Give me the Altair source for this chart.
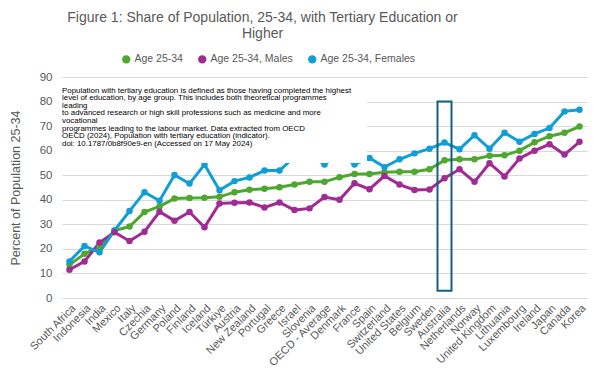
import altair as alt
import pandas as pd

countries = ["South Africa", "Indonesia", "India", "Mexico", "Italy", "Czechia", "Germany",
             "Poland", "Finland", "Iceland", "Türkiye", "Austria", "New Zealand", "Portugal",
             "Greece", "Israel", "Slovenia", "OECD - Average", "Denmark", "France", "Spain",
             "Switzerland", "United States", "Belgium", "Sweden", "Australia", "Netherlands",
             "Norway", "United Kingdom", "Lithuania", "Luxembourg", "Ireland", "Japan",
             "Canada", "Korea"]

age_total = [13.5, 18.0, 20.8, 27.5, 29.1, 35.0, 37.3, 40.5, 40.7, 40.8, 41.2, 43.1, 44.1,
             44.5, 45.1, 46.2, 47.3, 47.3, 49.2, 50.5, 50.5, 51.2, 51.4, 51.4, 52.4, 56.1,
             56.5, 56.5, 57.9, 58.1, 60.0, 63.4, 65.9, 67.3, 69.8]
age_males = [11.5, 14.9, 22.6, 26.8, 23.2, 27.0, 35.1, 31.5, 35.0, 28.8, 38.5, 38.8, 38.9,
             36.9, 38.9, 35.8, 36.5, 41.1, 40.0, 46.7, 44.3, 49.7, 46.2, 44.0, 44.2, 48.8,
             52.4, 47.3, 54.9, 49.5, 56.8, 60.0, 62.6, 58.4, 63.6]
age_females = [14.9, 21.2, 18.6, 27.5, 35.4, 43.1, 39.6, 50.1, 46.6, 54.3, 43.9, 47.6, 49.1,
               51.9, 51.9, 57.5, 58.5, 54.4, 58.5, 54.4, 57.0, 53.3, 56.5, 58.9, 60.8, 63.3,
               60.6, 66.3, 60.8, 67.3, 63.6, 66.8, 69.2, 76.0, 76.7]

series_names = ["Age 25-34", "Age 25-34, Males", "Age 25-34, Females"]
series_colors = ["#4EA72E", "#A02B93", "#0F9ED5"]

highlight_country = ["Australia"]
highlight_low = [3]
highlight_high = [80]

note_lines = [
    "Population with tertiary education is defined as those having completed the highest",
    "level of education, by age group. This includes both theoretical programmes",
    "leading",
    "to advanced research or high skill professions such as medicine and more",
    "vocational",
    "programmes leading to the labour market.  Data extracted from OECD",
    "OECD (2024), Population with tertiary education (indicator).",
    "doi: 10.1787/0b8f90e9-en (Accessed on 17 May 2024)",
]

title_lines = ["Figure 1: Share of Population, 25-34, with Tertiary Education or", "Higher"]

rows = []
for name, vals in zip(series_names, [age_total, age_males, age_females]):
    for c, v in zip(countries, vals):
        rows.append({"country": c, "series": name, "value": v})
df = pd.DataFrame(rows)

FONT = "Liberation Sans"
GRAY = "#595959"

x_scale = alt.Scale(type="point", domain=countries, padding=0.5)
y_scale = alt.Scale(domain=[0, 90], nice=False)

x_axis = alt.Axis(labelAngle=-45, labelFontSize=11, labelColor=GRAY, labelFont=FONT,
                  ticks=False, domain=False, grid=False, labelPadding=4)
y_axis = alt.Axis(values=list(range(0, 91, 10)), labelFontSize=11.5, labelColor=GRAY,
                  labelFont=FONT, ticks=False, domain=False, grid=True, labelOverlap=False,
                  gridColor="#D9D9D9", gridWidth=1, labelPadding=10,
                  titleFontSize=12.5, titleColor=GRAY, titleFont=FONT,
                  titleFontWeight="normal", titlePadding=17)
y_title = "Percent of Population 25-34"

lines = alt.Chart(df).mark_line(
    strokeWidth=3,
    point=alt.OverlayMarkDef(filled=True, size=42, opacity=1),
).encode(
    x=alt.X("country:N", scale=x_scale, title=None, axis=x_axis),
    y=alt.Y("value:Q", scale=y_scale, title=y_title, axis=y_axis),
    color=alt.Color("series:N", scale=alt.Scale(domain=series_names, range=series_colors),
                    legend=alt.Legend(orient="none", legendX=59, legendY=-23,
                                      direction="horizontal", title=None,
                                      labelFontSize=10.5, labelColor=GRAY, labelFont=FONT,
                                      symbolType="circle", symbolSize=70,
                                      symbolStrokeWidth=0, labelOffset=3,
                                      columnPadding=14)),
    order=alt.Order("series:N"),
)

box_df = pd.DataFrame({"k": [0]})
white_box = alt.Chart(box_df).mark_rect(color="white", opacity=1).encode(
    x=alt.value(-5), x2=alt.value(305), y=alt.value(7), y2=alt.value(86)
)
note = alt.Chart(box_df).mark_text(
    text=note_lines, align="left", baseline="top", fontSize=7.9, lineHeight=7.6,
    font=FONT, color="#000000"
).encode(x=alt.value(0), y=alt.value(9.5))

hl_df = pd.DataFrame({"country": highlight_country, "value": highlight_low,
                      "value_hi": highlight_high})
highlight = alt.Chart(hl_df).mark_bar(filled=False, color="#156082", strokeWidth=2, size=14).encode(
    x=alt.X("country:N", scale=x_scale, title=None, axis=x_axis),
    y=alt.Y("value:Q", scale=y_scale, title=y_title, axis=y_axis),
    y2="value_hi:Q",
)

chart = alt.layer(lines, white_box, note, highlight).properties(
    width=525,
    height=221,
    padding={"left": 54, "top": 69, "right": 5, "bottom": 85},
    autosize="none",
    title=alt.TitleParams(text=title_lines, fontSize=14, font=FONT, fontWeight="normal",
                          color=GRAY, anchor="middle", dx=-62, lineHeight=16.5, offset=13),
).configure_view(stroke=None)

chart.save("out.html", embed_options={"renderer": "svg", "actions": False})
